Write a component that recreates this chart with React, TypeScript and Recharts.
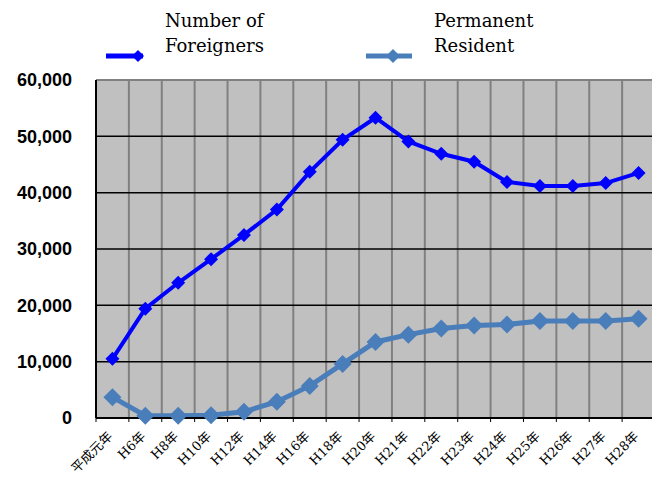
import { LineChart, Line, XAxis, YAxis, CartesianGrid, ReferenceLine } from "recharts"

const years = [
  "平成元年", "H6年", "H8年", "H10年", "H12年", "H14年", "H16年", "H18年", "H20年",
  "H21年", "H22年", "H23年", "H24年", "H25年", "H26年", "H27年", "H28年",
]
const foreigners = [
  10500, 19400, 24000, 28200, 32500, 37000, 43700, 49400, 53300,
  49100, 46900, 45500, 41900, 41200, 41200, 41700, 43500,
]
const permanent = [
  3700, 400, 400, 500, 1100, 2900, 5700, 9600, 13500,
  14800, 15900, 16400, 16600, 17200, 17200, 17200, 17600,
]
const yTicks = [0, 10000, 20000, 30000, 40000, 50000, 60000]

const FOREIGN_COLOR = "#0000FF"
const PERM_COLOR = "#4A7EBB"

const data = years.map((year, i) => ({
  year,
  foreigners: foreigners[i],
  permanent: permanent[i],
}))

function Diamond({ cx, cy, r, fill }: { cx?: number; cy?: number; r: number; fill: string }) {
  if (cx == null || cy == null) return null
  return <path d={`M${cx},${cy - r}L${cx + r},${cy}L${cx},${cy + r}L${cx - r},${cy}Z`} fill={fill} />
}

function XTick(props: any) {
  const { x, y, payload, width } = props
  const step = width / years.length
  return (
    <g>
      <line x1={x - step / 2} y1={y} x2={x - step / 2} y2={y + 4} stroke="#000" strokeWidth={1} />
      <g transform={`translate(${x + 1},${y + 19}) rotate(-45)`}>
        <text
          x={0}
          y={0}
          textAnchor="end"
          fontFamily="'DejaVu Serif', 'Noto Sans CJK JP', serif"
          fontSize={13}
          fill="#000"
        >
          {payload.value}
        </text>
      </g>
    </g>
  )
}

function LegendItem(props: { color: string; r: number; lines: string[]; left: number; lineLen: number; dotX: number }) {
  const { color, r, lines, left, lineLen, dotX } = props
  return (
    <div style={{ position: "absolute", left, top: 8, display: "flex", alignItems: "flex-start" }}>
      <svg width={lineLen + 10} height={60}>
        <line x1={0} y1={48} x2={lineLen} y2={48} stroke={color} strokeWidth={5} />
        <Diamond cx={dotX} cy={48} r={r} fill={color} />
      </svg>
      <div
        style={{
          marginLeft: 12,
          fontFamily: "'DejaVu Serif', serif",
          fontSize: 18,
          lineHeight: "25px",
          color: "#000",
        }}
      >
        {lines.map((l) => (
          <div key={l}>{l}</div>
        ))}
      </div>
    </div>
  )
}

export default function App() {
  return (
    <div style={{ position: "absolute", left: 0, top: 0, width: 652, height: 477, background: "#fff" }}>
      <LegendItem color={FOREIGN_COLOR} r={6} lines={["Number of", "Foreigners"]} left={106} lineLen={37} dotX={32} />
      <LegendItem color={PERM_COLOR} r={7} lines={["Permanent", "Resident"]} left={366} lineLen={46} dotX={27} />
      <LineChart width={652} height={477} data={data} margin={{ top: 80, right: -3, left: 0, bottom: 0 }}>
        <CartesianGrid
          fill="#C0C0C0"
          fillOpacity={1}
          horizontal={false}
          stroke="#808080"
          strokeWidth={2}
          verticalCoordinatesGenerator={({ offset }: any) =>
            Array.from({ length: years.length + 1 }, (_, i) => offset.left + (i * offset.width) / years.length)
          }
        />
        <CartesianGrid vertical={false} stroke="#000" strokeWidth={1.5} />
        <ReferenceLine y={60000} stroke="#808080" strokeWidth={2} />
        <XAxis
          dataKey="year"
          scale="band"
          height={59}
          interval={0}
          tickLine={false}
          tickSize={0}
          tickMargin={0}
          axisLine={{ stroke: "#000", strokeWidth: 2 }}
          tick={<XTick />}
        />
        <YAxis
          width={96}
          domain={[0, 60000]}
          ticks={yTicks}
          interval={0}
          axisLine={{ stroke: "#000", strokeWidth: 2 }}
          tickLine={false}
          tickSize={0}
          tickMargin={24}
          tickFormatter={(v: number) => v.toLocaleString("en-US")}
          tick={{ fill: "#000", fontFamily: "'Liberation Sans', Arial, sans-serif", fontSize: 18, fontWeight: "bold" }}
        />
        <Line
          dataKey="permanent"
          stroke={PERM_COLOR}
          strokeWidth={5}
          isAnimationActive={false}
          dot={(p: any) => <Diamond key={p.index} cx={p.cx} cy={p.cy} r={9} fill={PERM_COLOR} />}
          activeDot={false}
        />
        <Line
          dataKey="foreigners"
          stroke={FOREIGN_COLOR}
          strokeWidth={4}
          isAnimationActive={false}
          dot={(p: any) => <Diamond key={p.index} cx={p.cx} cy={p.cy} r={7} fill={FOREIGN_COLOR} />}
          activeDot={false}
        />
      </LineChart>
    </div>
  )
}
